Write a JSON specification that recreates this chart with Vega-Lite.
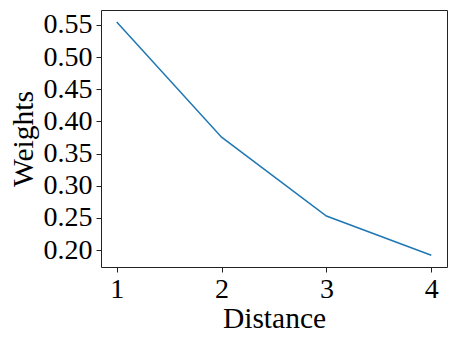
{
  "$schema": "https://vega.github.io/schema/vega-lite/v6.json",
  "autosize": {"type": "none"},
  "width": 346,
  "height": 257,
  "padding": {"left": 101, "top": 10, "right": 11, "bottom": 76},
  "background": "white",
  "config": {
    "view": {"stroke": "#222222", "strokeWidth": 1},
    "font": "Liberation Serif"
  },
  "data": {
    "values": [
      {"Distance": 1, "Weights": 0.5545},
      {"Distance": 2, "Weights": 0.3755},
      {"Distance": 3, "Weights": 0.2529},
      {"Distance": 4, "Weights": 0.1918}
    ]
  },
  "mark": {"type": "line", "color": "#1f77b4", "strokeWidth": 1.5},
  "encoding": {
    "x": {
      "field": "Distance",
      "type": "quantitative",
      "scale": {"domain": [0.85, 4.15], "nice": false, "zero": false},
      "axis": {
        "values": [1, 2, 3, 4],
        "format": "d",
        "grid": false,
        "domain": false,
        "tickColor": "#222222",
        "tickSize": 5,
        "labelFont": "Liberation Serif",
        "labelFontSize": 28,
        "labelColor": "black",
        "labelPadding": 3,
        "title": "Distance",
        "titleFont": "Liberation Serif",
        "titleFontSize": 29.5,
        "titleFontWeight": "normal",
        "titleColor": "black",
        "titlePadding": 1
      }
    },
    "y": {
      "field": "Weights",
      "type": "quantitative",
      "scale": {"domain": [0.1736, 0.5733], "nice": false, "zero": false},
      "axis": {
        "values": [0.2, 0.25, 0.3, 0.35, 0.4, 0.45, 0.5, 0.55],
        "format": ".2f",
        "grid": false,
        "domain": false,
        "tickColor": "#222222",
        "tickSize": 5,
        "labelFont": "Liberation Serif",
        "labelFontSize": 28,
        "labelColor": "black",
        "labelPadding": 4,
        "title": "Weights",
        "titleFont": "Liberation Serif",
        "titleFontSize": 29.5,
        "titleFontWeight": "normal",
        "titleColor": "black",
        "titlePadding": 5
      }
    }
  }
}
